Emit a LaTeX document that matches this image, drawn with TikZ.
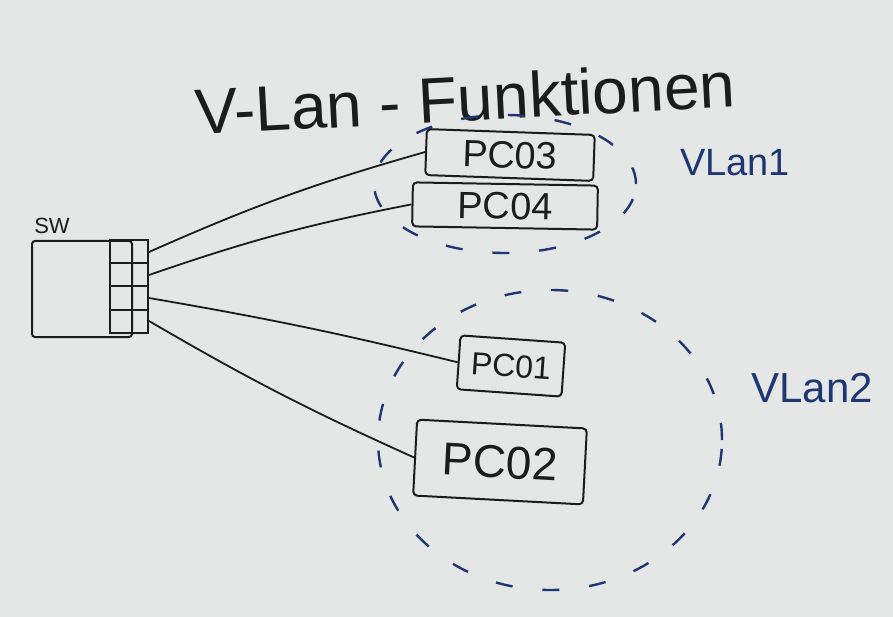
\documentclass[tikz,border=0pt]{standalone}
\usepackage{fontspec}
\setmainfont{Liberation Sans}
\usetikzlibrary{shapes.geometric}
\definecolor{board}{RGB}{229,231,231}
\definecolor{ink}{RGB}{28,28,28}
\definecolor{blueink}{RGB}{30,55,115}
\begin{document}
\begin{tikzpicture}[x=1pt,y=-1pt,
  pcbox/.style={draw=ink, line width=2pt, rounded corners=4pt, inner sep=0pt, text=ink},
  portbox/.style={draw=ink, line width=2pt, minimum width=38pt, minimum height=23pt, inner sep=0pt},
  swbox/.style={draw=ink, line width=2pt, minimum width=100pt, minimum height=96pt, inner sep=0pt, rounded corners=3pt},
  cable/.style={ink, line width=1.8pt},
  vlanring/.style={draw=blueink, ellipse, line width=2.4pt, dash pattern=on 17pt off 30pt, inner sep=0pt},
  vlanlabel/.style={text=blueink, inner sep=0pt},
  blacklabel/.style={text=ink, inner sep=0pt}]
\fill[board] (0,0) rectangle (893,617);

% title
\node[blacklabel, rotate=3, font=\fontsize{64}{64}\selectfont] (title) at (465,98) {V-Lan - Funktionen};

% switch
\node[swbox] (sw) at (82,289) {};
\node[blacklabel, font=\fontsize{22}{22}\selectfont] (swlabel) at (52,226) {SW};
\node[portbox] (p1) at (129,252) {};
\node[portbox] (p2) at (129,275) {};
\node[portbox] (p3) at (129,298) {};
\node[portbox] (p4) at (129,321) {};

% PCs
\node[pcbox, minimum width=168pt, minimum height=46pt, rotate=-2, font=\fontsize{38}{38}\selectfont] (pc3) at (510,155) {PC03};
\node[pcbox, minimum width=185pt, minimum height=44pt, rotate=-1, font=\fontsize{38}{38}\selectfont] (pc4) at (505,206) {PC04};
\node[pcbox, minimum width=105pt, minimum height=54pt, rotate=-4, font=\fontsize{32}{32}\selectfont] (pc1) at (511,366) {PC01};
\node[pcbox, minimum width=170pt, minimum height=76pt, rotate=-3, font=\fontsize{46}{46}\selectfont] (pc2) at (500,462) {PC02};

% VLAN rings
\node[vlanring, minimum width=262pt, minimum height=138pt] (vlan1) at (505,184) {};
\node[vlanring, minimum width=344pt, minimum height=300pt] (vlan2) at (550,440) {};
\node[vlanlabel, font=\fontsize{38}{38}\selectfont] (vlan1label) at (735,163) {VLan1};
\node[vlanlabel, font=\fontsize{42}{42}\selectfont] (vlan2label) at (812,388) {VLan2};

% cables
\draw[cable] (p1.east) to[bend left=4] (pc3.west);
\draw[cable] (p2.east) to[bend left=4] (pc4.west);
\draw[cable] (p3.east) to[bend left=2] (pc1.west);
\draw[cable] (p4.east) to[bend right=3] (pc2.west);
\end{tikzpicture}
\end{document}
